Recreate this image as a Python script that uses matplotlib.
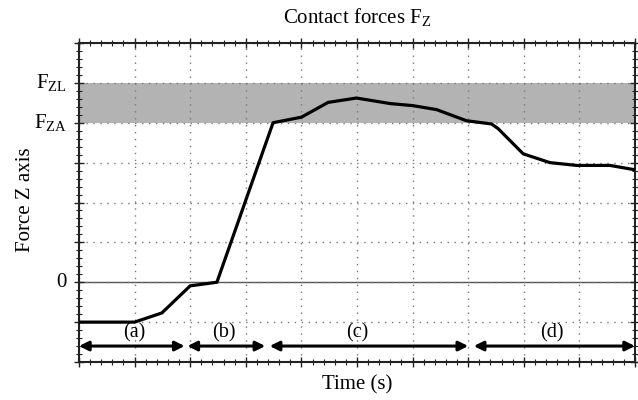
import matplotlib
matplotlib.use("Agg")
import matplotlib.pyplot as plt
from matplotlib.ticker import MultipleLocator

plt.rcParams['font.family'] = ['Liberation Serif', 'DejaVu Serif']
plt.rcParams['mathtext.fontset'] = 'custom'
plt.rcParams['mathtext.rm'] = 'Liberation Serif'
plt.rcParams['mathtext.it'] = 'Liberation Serif'

# Data
time = [0.0, 1.0, 1.49, 2.0, 2.48, 3.49, 4.0, 4.48, 4.99, 5.6, 6.0, 6.43, 6.97, 7.42, 7.54, 7.99, 8.47, 8.95, 9.55, 10.0]
force = [-1.0, -1.0, -0.77, -0.09, 0.0, 4.0, 4.14, 4.51, 4.62, 4.48, 4.43, 4.33, 4.05, 3.97, 3.85, 3.22, 3.0, 2.93, 2.93, 2.82]
band_low, band_high = 4.0, 5.0
ytick_vals = [0, 4, 5]
ytick_labels = ['0', r'F$_{\mathrm{ZA}}$', r'F$_{\mathrm{ZL}}$']
phase_starts = [0.0, 1.95, 3.43, 7.1]
phase_ends = [1.9, 3.35, 7.0, 10.0]
phase_labels = ['(a)', '(b)', '(c)', '(d)']
phase_label_x = [1.0, 2.6, 5.0, 8.5]

fig = plt.figure(figsize=(6.38, 4.0), dpi=100)
ax = fig.add_axes([79/638, 1-362/400, (635-79)/638, (362-43)/400])

ax.set_xlim(0, 10)
ax.set_ylim(-2, 6)

ax.axhspan(band_low, band_high, color='#b3b3b3', zorder=0, lw=0)
ax.axhline(0, color='#555555', lw=1.0, zorder=1)

ax.xaxis.set_major_locator(MultipleLocator(1))
ax.xaxis.set_minor_locator(MultipleLocator(0.2))
ax.yaxis.set_major_locator(MultipleLocator(1))
ax.yaxis.set_minor_locator(MultipleLocator(0.2))
ax.grid(True, which='major', linestyle=(0, (1, 4)), color='#777777', lw=1.0, zorder=0.5)

ax.tick_params(axis='both', which='both', top=True, right=True,
               labelbottom=False, labelleft=False, color='#222222')
ax.tick_params(which='major', length=7, width=1.0, direction='inout')
ax.tick_params(which='minor', length=4, width=0.8, direction='inout')

for v, lab in zip(ytick_vals, ytick_labels):
    ax.text(-0.22, v, lab, ha='right', va='center', fontsize=15, clip_on=False)

ax.plot(time, force, color='black', lw=2.3, zorder=3, solid_joinstyle='round')

arrow_y = -1.6
for s, e in zip(phase_starts, phase_ends):
    ax.annotate('', xy=(e, arrow_y), xytext=(s, arrow_y),
                arrowprops=dict(arrowstyle='<|-|>', color='black', lw=2.2,
                                mutation_scale=14, shrinkA=0, shrinkB=0), zorder=4)
for xl, lab in zip(phase_label_x, phase_labels):
    ax.text(xl, -1.27, lab, ha='center', va='center', fontsize=14.5, zorder=4)

for sp in ax.spines.values():
    sp.set_linewidth(1.5)
    sp.set_color('#222222')

fig.text(357/638, 1-17/400, r'Contact forces F$_{\mathrm{Z}}$', ha='center', va='center', fontsize=15)
fig.text(357/638, 1-385/400, 'Time (s)', ha='center', va='center', fontsize=15)
fig.text(25/638, 1-200/400, 'Force Z axis', ha='center', va='center', rotation=90, fontsize=15)

fig.savefig('out.png', dpi=100)
